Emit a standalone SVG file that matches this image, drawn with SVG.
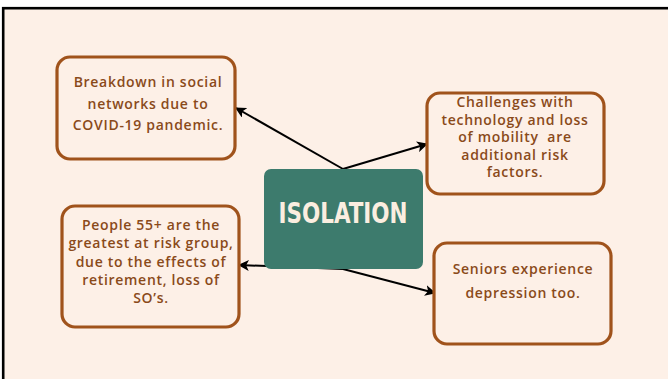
<svg xmlns="http://www.w3.org/2000/svg" width="668" height="379" viewBox="0 0 668 379">
<defs>
<style>
.box{fill:#fdf0e7;stroke:#a0531c;stroke-width:3.2}
.t{font-family:"Open Sans","Liberation Sans",sans-serif;font-size:14px;font-weight:600;fill:#8a4a1a;text-anchor:middle;letter-spacing:0.7px;white-space:pre}
.c{fill:none;stroke:#000;stroke-width:2;marker-end:url(#ah)}
</style>
<marker id="ah" viewBox="0 0 10 10" refX="9" refY="5" markerWidth="5.5" markerHeight="5.5" orient="auto" markerUnits="strokeWidth">
<path d="M0,0 L10,5 L0,10 L2.5,5 Z" fill="#000"/>
</marker>
</defs>
<rect x="0" y="0" width="668" height="379" fill="#fff"/>
<rect x="3.2" y="8.2" width="700" height="400" fill="#fdf0e7" stroke="#000" stroke-width="2.6"/>
<g id="connectors">
<polyline class="c" points="343,169 236,108"/>
<polyline class="c" points="343,169 427,144"/>
<polyline class="c" points="343,269 239,265"/>
<polyline class="c" points="343,269 435,293"/>
</g>
<g id="center">
<rect x="264" y="169" width="159" height="100" rx="7" fill="#3d7b6d"/>
<text x="343" y="223" font-family="'DejaVu Sans Condensed','DejaVu Sans',sans-serif" font-weight="bold" font-size="28" fill="#fbeee0" text-anchor="middle" textLength="129" lengthAdjust="spacingAndGlyphs">ISOLATION</text>
</g>
<g id="n1">
<rect class="box" x="57" y="57" width="178" height="102" rx="13"/>
<text class="t" x="148" y="87">Breakdown in social</text>
<text class="t" x="148" y="109">networks due to</text>
<text class="t" x="148" y="130">COVID-19 pandemic.</text>
</g>
<g id="n2">
<rect class="box" x="427" y="93" width="177" height="101" rx="13"/>
<text class="t" x="515" y="107">Challenges with</text>
<text class="t" x="515" y="124.5">technology and loss</text>
<text class="t" x="515" y="142" xml:space="preserve">of mobility  are</text>
<text class="t" x="515" y="159.5">additional risk</text>
<text class="t" x="515" y="177">factors.</text>
</g>
<g id="n3">
<rect class="box" x="62" y="206" width="177" height="121" rx="13"/>
<text class="t" x="151" y="230">People 55+ are the</text>
<text class="t" x="151" y="248">greatest at risk group,</text>
<text class="t" x="151" y="266.5">due to the effects of</text>
<text class="t" x="151" y="285">retirement, loss of</text>
<text class="t" x="151" y="303">SO’s.</text>
</g>
<g id="n4">
<rect class="box" x="434" y="243" width="177" height="101" rx="13"/>
<text class="t" x="523" y="274">Seniors experience</text>
<text class="t" x="523" y="298">depression too.</text>
</g>
</svg>
